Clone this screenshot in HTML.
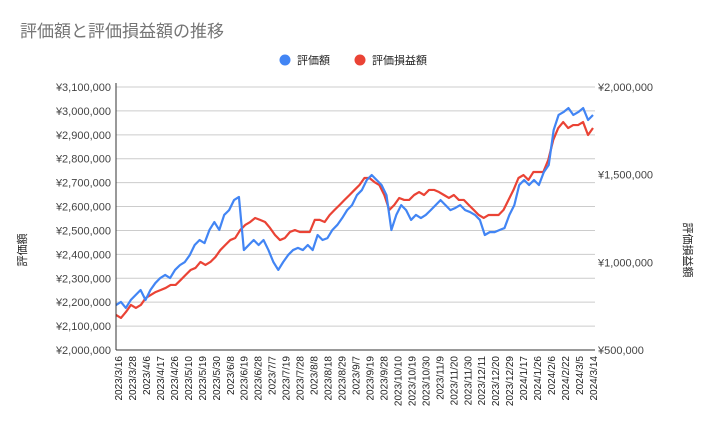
<!DOCTYPE html>
<html><head><meta charset="utf-8"><style>
body{margin:0;background:#fff;}
svg{display:block;font-family:"Liberation Sans","Noto Sans CJK JP",sans-serif;}
</style></head><body>
<svg id="chart" width="709" height="438">
<text x="20" y="37" font-size="17" fill="#757575">評価額と評価損益額の推移</text>
<g>
<circle cx="285" cy="60" r="5.5" fill="#4285f4"/>
<text x="297" y="64" font-size="11" fill="#222">評価額</text>
<circle cx="360" cy="60" r="5.5" fill="#ea4335"/>
<text x="372" y="64" font-size="11" fill="#222">評価損益額</text>
</g>
<text transform="translate(26,250) rotate(-90)" text-anchor="middle" font-size="11" fill="#222">評価額</text>
<text transform="translate(684,250) rotate(90)" text-anchor="middle" font-size="11" fill="#222">評価損益額</text>
<g id="grid"></g><g id="series"></g><g id="axes"></g>
</svg>
<script>
const dates=["2023/3/16","2023/3/28","2023/4/6","2023/4/17","2023/4/26","2023/5/10","2023/5/19","2023/5/30","2023/6/8","2023/6/19","2023/6/28","2023/7/7","2023/7/19","2023/7/28","2023/8/8","2023/8/18","2023/8/29","2023/9/7","2023/9/19","2023/9/28","2023/10/10","2023/10/19","2023/10/30","2023/11/9","2023/11/20","2023/11/30","2023/12/11","2023/12/20","2023/12/29","2024/1/17","2024/1/26","2024/2/6","2024/2/22","2024/3/5","2024/3/14"];
const leftTicks=[2000000,2100000,2200000,2300000,2400000,2500000,2600000,2700000,2800000,2900000,3000000,3100000];
const rightTicks=[500000,1000000,1500000,2000000];
const valueK=[2188,2201,2176,2209,2230,2251,2209,2251,2280,2301,2314,2301,2335,2355,2368,2397,2439,2460,2447,2502,2535,2502,2565,2585,2627,2640,2418,2439,2460,2439,2460,2418,2368,2335,2368,2397,2418,2427,2418,2439,2418,2481,2460,2468,2502,2523,2552,2585,2606,2648,2669,2711,2732,2711,2690,2648,2502,2565,2606,2585,2544,2565,2552,2565,2585,2606,2627,2606,2585,2594,2606,2585,2577,2565,2544,2481,2493,2493,2502,2510,2565,2606,2690,2711,2690,2711,2690,2744,2774,2920,2983,2995,3012,2983,2995,3012,2962,2983];
const gainK=[700,683,717,757,740,757,797,814,831,842,854,871,871,899,928,956,968,1002,985,1002,1030,1070,1099,1127,1139,1184,1213,1230,1253,1242,1230,1196,1156,1127,1139,1173,1184,1173,1173,1173,1242,1242,1230,1270,1299,1327,1356,1384,1413,1441,1481,1481,1458,1441,1384,1299,1327,1367,1356,1356,1384,1401,1384,1413,1413,1401,1384,1367,1384,1356,1356,1327,1299,1270,1253,1270,1270,1270,1299,1356,1413,1481,1498,1470,1515,1515,1515,1584,1698,1766,1800,1766,1783,1783,1800,1726,1766];
const X0=116,X1=595,YT=87,YB=350;
const yL=v=>YB-(v-2000000)/1100000*(YB-YT);
const yR=v=>YB-(v-500000)/1500000*(YB-YT);
const ns="http://www.w3.org/2000/svg";
function mk(t,a,p){const e=document.createElementNS(ns,t);for(const k in a)e.setAttribute(k,a[k]);p.appendChild(e);return e;}
const grid=document.getElementById('grid'),axes=document.getElementById('axes'),ser=document.getElementById('series');
leftTicks.forEach(v=>{const y=yL(v);
 const l=mk('line',{x1:X0,x2:X1,y1:y,y2:y,stroke:'#ccc','stroke-width':1},grid);
 
 
 const t=mk('text',{x:111,y:y+4,'text-anchor':'end','font-size':11,fill:'#444'},axes);
 t.textContent='¥'+v.toLocaleString('en-US');
 
 
});
rightTicks.forEach(v=>{const y=yR(v);
 const t=mk('text',{x:598,y:y+4,'font-size':11,fill:'#444'},axes);
 t.textContent='¥'+v.toLocaleString('en-US');
 
 
});
const xb=mk('line',{x1:X0,x2:X1,y1:YB,y2:YB,stroke:'#333','stroke-width':1},axes);


const yb=mk('line',{x1:X0,x2:X0,y1:YT-4,y2:YB,stroke:'#333','stroke-width':1},axes);


dates.forEach((d,i)=>{const x=118+i*(593-118)/(dates.length-1);
 const t=mk('text',{transform:`translate(${x+4},356) rotate(-90)`,'text-anchor':'end','font-size':10,fill:'#222'},axes);
 t.textContent=d;
 
 
});
function draw(arr,fy,color,name){
 const n=arr.length;
 const pts=arr.map((v,i)=>[X0+i*(X1-2-X0)/(n-1),fy(v*1000)]);
 const p=mk('polyline',{points:pts.map(p=>p.join(',')).join(' '),fill:'none',stroke:color,'stroke-width':2.2,'stroke-linejoin':'round'},ser);
 
 
}
draw(gainK,yR,'#ea4335','gain-line');
draw(valueK,yL,'#4285f4','value-line');
</script>
</body></html>
